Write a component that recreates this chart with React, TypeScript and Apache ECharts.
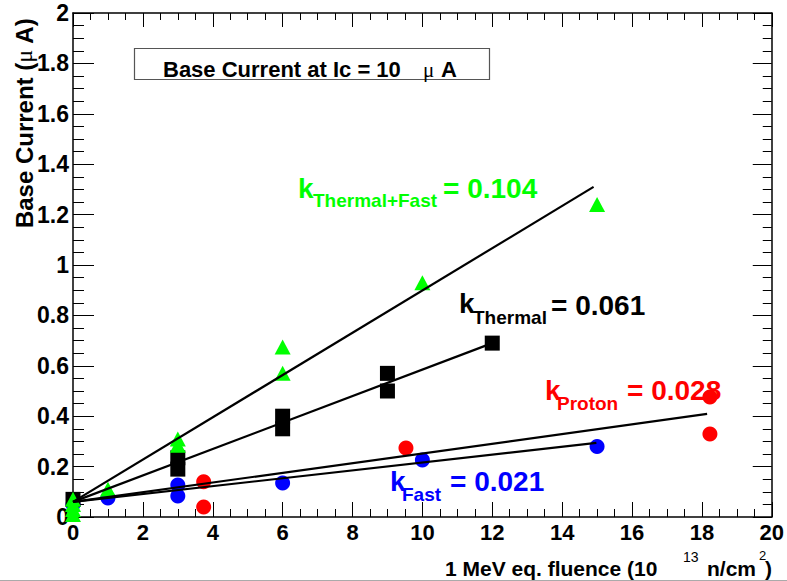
import React, { useEffect, useRef } from "react";
import * as echarts from "echarts";

// ---- data (fluence in 1e13 n/cm^2, base current in uA) ----
const protonPoints: [number, number][] = [
  [3.74, 0.14], [3.74, 0.04], [9.53, 0.274], [18.23, 0.476], [18.23, 0.329],
];
const fastPoints: [number, number][] = [
  [0, 0.05], [1, 0.075], [3, 0.127], [3, 0.083], [6, 0.135], [10, 0.226], [15, 0.28],
];
const thermalPoints: [number, number][] = [
  [0, 0.07], [3, 0.235], [3, 0.19], [6, 0.4], [6, 0.35], [9, 0.57], [9, 0.5], [12, 0.69],
];
const thermalFastPoints: [number, number][] = [
  [0, 0.07], [0, 0.05], [0, 0.03], [0, 0.01], [1, 0.11], [3, 0.31], [3, 0.285],
  [6, 0.675], [6, 0.57], [10, 0.93], [15, 1.24],
];
const fitThermalFast: [number, number][] = [[0, 0.06], [14.9, 1.31]];
const fitThermal: [number, number][] = [[0, 0.06], [12, 0.69]];
const fitProton: [number, number][] = [[0, 0.06], [18.15, 0.409]];
const fitFast: [number, number][] = [[0, 0.06], [14.98, 0.294]];

const kSubs = ["Thermal+Fast", "Thermal", "Proton", "Fast"];
const kValues = ["= 0.104", "= 0.061", "= 0.028", "= 0.021"];
const kColors = ["#00ff00", "#000000", "#ff0000", "#0000ff"];

const xRange = [0, 20];
const yRange = [0, 2];

const FONT = '"Liberation Sans", Arial, Helvetica, sans-serif';

export default function App() {
  const ref = useRef<HTMLDivElement>(null);
  useEffect(() => {
    if (!ref.current) return;
    const chart = echarts.init(ref.current, undefined, { renderer: "svg" });

    const txt = (
      text: string,
      x: number,
      y: number,
      size: number,
      color: string,
      weight: string = "bold",
      family: string = FONT
    ) => ({
      type: "text",
      x,
      y,
      z: 100,
      style: {
        text,
        fill: color,
        fontSize: size,
        fontWeight: weight,
        fontFamily: family,
        textAlign: "left",
        textVerticalAlign: "middle",
        align: "left",
        verticalAlign: "middle",
      },
    });

    // label anchor positions [kX, kY, subX, subY, valX, valY]
    const kPos = [
      [298, 188, 313, 200, 443, 188],
      [459, 303, 473, 317, 551, 305],
      [545, 390, 557, 403, 627, 390],
      [390, 481, 402, 494, 450, 481],
    ];
    const kGraphics: any[] = [];
    kSubs.forEach((sub, i) => {
      const p = kPos[i];
      kGraphics.push(txt("k", p[0], p[1], 28, kColors[i]));
      kGraphics.push(txt(sub, p[2], p[3], 19, kColors[i]));
      kGraphics.push(txt(kValues[i], p[4], p[5], 28, kColors[i]));
    });

    const axisCommon = {
      type: "value",
      min: xRange[0],
      max: xRange[1],
      interval: 2,
      splitLine: { show: false },
      axisLine: { show: true, onZero: false, lineStyle: { color: "#000", width: 1.5 } },
    };
    const yCommon = {
      type: "value",
      min: yRange[0],
      max: yRange[1],
      interval: 0.2,
      splitLine: { show: false },
      axisLine: { show: true, onZero: false, lineStyle: { color: "#000", width: 1.5 } },
    };

    const option: any = {
      animation: false,
      backgroundColor: "#ffffff",
      grid: { left: 73, right: 13, top: 13, bottom: 64, containLabel: false },
      xAxis: [
        {
          ...axisCommon,
          position: "bottom",
          axisTick: { show: true, inside: true, length: 15, lineStyle: { color: "#000", width: 1 } },
          minorTick: { show: true, splitNumber: 4, length: 8, lineStyle: { color: "#000", width: 1 } },
          axisLabel: { show: true, color: "#000", fontSize: 22, fontWeight: "bold", fontFamily: FONT, margin: 4 },
        },
        {
          ...axisCommon,
          position: "top",
          axisTick: { show: true, inside: true, length: 14, lineStyle: { color: "#000", width: 1 } },
          minorTick: { show: true, splitNumber: 4, length: 7, lineStyle: { color: "#000", width: 1 } },
          axisLabel: { show: false },
        },
      ],
      yAxis: [
        {
          ...yCommon,
          position: "left",
          axisTick: { show: true, inside: true, length: 21, lineStyle: { color: "#000", width: 1 } },
          minorTick: { show: true, splitNumber: 4, length: 11, lineStyle: { color: "#000", width: 1 } },
          axisLabel: { show: true, color: "#000", fontSize: 23, fontWeight: "bold", fontFamily: FONT, margin: 4 },
        },
        {
          ...yCommon,
          position: "right",
          axisTick: { show: true, inside: true, length: 19, lineStyle: { color: "#000", width: 1 } },
          minorTick: { show: true, splitNumber: 4, length: 9, lineStyle: { color: "#000", width: 1 } },
          axisLabel: { show: false },
        },
      ],
      series: [
        {
          type: "scatter",
          name: "Proton",
          data: protonPoints,
          symbol: "circle",
          symbolSize: 15,
          itemStyle: { color: "#ff0000", opacity: 1 },
          clip: false,
        },
        {
          type: "scatter",
          name: "Fast",
          data: fastPoints,
          symbol: "circle",
          symbolSize: 15,
          itemStyle: { color: "#0000ff", opacity: 1 },
          clip: false,
        },
        {
          type: "scatter",
          name: "Thermal",
          data: thermalPoints,
          symbol: "rect",
          symbolSize: [15, 15],
          itemStyle: { color: "#000000", opacity: 1 },
          clip: false,
        },
        {
          type: "scatter",
          name: "Thermal+Fast",
          data: thermalFastPoints,
          symbol: "triangle",
          symbolSize: [16, 15],
          itemStyle: { color: "#00ff00", opacity: 1 },
          clip: false,
        },
        ...[fitProton, fitFast, fitThermal, fitThermalFast].map((d) => ({
          type: "line",
          data: d,
          symbol: "none",
          lineStyle: { color: "#000", width: 2.2 },
          clip: false,
          z: 3,
        })),
      ],
      graphic: [
        {
          type: "rect",
          z: 99,
          shape: { x: 134.5, y: 48.5, width: 355, height: 31 },
          style: { fill: "#ffffff", stroke: "#555", lineWidth: 1.2 },
        },
        txt("Base Current at Ic = 10", 163, 69, 22, "#000"),
        txt("μ", 423, 70, 21, "#000", "normal", '"Liberation Serif", serif'),
        txt("A", 441, 69, 22, "#000"),
        {
          type: "text",
          x: 24,
          y: 123,
          rotation: Math.PI / 2,
          z: 100,
          style: {
            text: "Base Current ({m|μ} A)",
            fill: "#000",
            fontSize: 24,
            fontWeight: "bold",
            fontFamily: FONT,
            textAlign: "center",
            textVerticalAlign: "middle",
            align: "center",
            verticalAlign: "middle",
            rich: {
              m: { fontSize: 24, fontWeight: "normal", fontFamily: '"Liberation Serif", serif', fill: "#000" },
            },
          },
        },
        txt("1 MeV eq. fluence (10", 445, 568, 21, "#000"),
        txt("13", 683, 557, 14, "#000", "normal"),
        txt("n/cm", 707, 568, 21, "#000"),
        txt("2", 759, 555, 13, "#000", "normal"),
        txt(")", 765, 568, 21, "#000"),
        ...kGraphics,
        {
          type: "line",
          z: 100,
          shape: { x1: 0, y1: 580.5, x2: 787, y2: 580.5 },
          style: { stroke: "#aaaaaa", lineWidth: 1 },
        },
      ],
    };
    chart.setOption(option);
    return () => chart.dispose();
  }, []);
  return (
    <div
      ref={ref}
      style={{ position: "absolute", left: 0, top: 0, width: 787, height: 581, background: "#fff" }}
    />
  );
}
